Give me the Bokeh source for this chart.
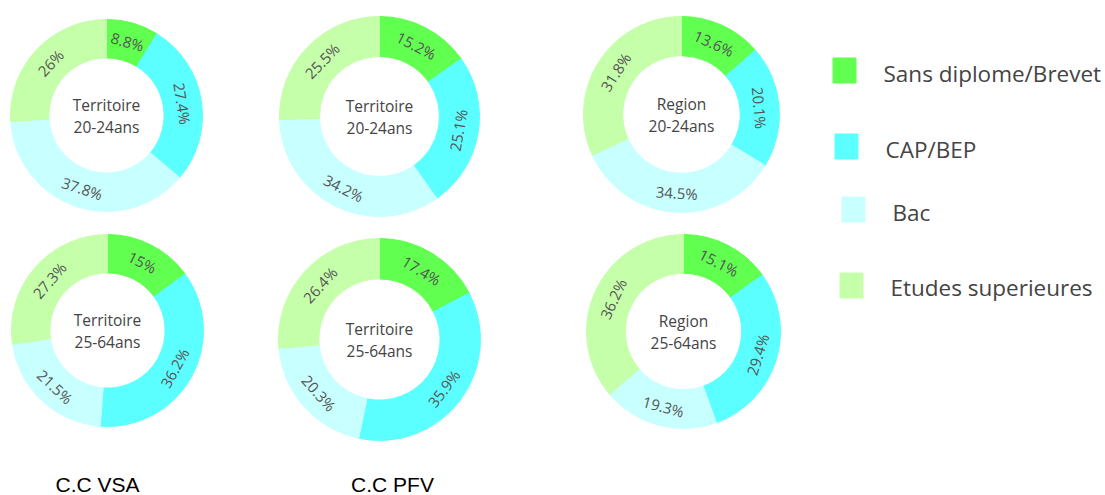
import math
from bokeh.plotting import figure
from bokeh.models import Range1d, ColumnDataSource
from bokeh.core.properties import value
from bokeh.embed import file_html
from bokeh.resources import INLINE

# ---------------- data ----------------
categories = ["Sans diplome/Brevet", "CAP/BEP", "Bac", "Etudes superieures"]
colors = ["#60FF50", "#5CFFFF", "#C8FFFF", "#C5FFAA"]

vsa_20_24 = [8.8, 27.4, 37.8, 26]
pfv_20_24 = [15.2, 25.1, 34.2, 25.5]
region_20_24 = [13.6, 20.1, 34.5, 31.8]
vsa_25_64 = [15, 36.2, 21.5, 27.3]
pfv_25_64 = [17.4, 35.9, 20.3, 26.4]
region_25_64 = [15.1, 29.4, 19.3, 36.2]

chart_titles = ["Territoire", "Territoire", "Region", "Territoire", "Territoire", "Region"]
chart_ages = ["20-24ans", "20-24ans", "20-24ans", "25-64ans", "25-64ans", "25-64ans"]
group_labels = ["C.C VSA", "C.C PFV"]

series = [vsa_20_24, pfv_20_24, region_20_24, vsa_25_64, pfv_25_64, region_25_64]

# ---------------- layout (pixel positions in page coords) ----------------
centers = [(106, 115), (379, 116), (681, 114), (107, 330), (379, 339), (683, 331)]
outer_r = [96, 100, 98, 96, 101, 97]
inner_ratio = 0.6

legend_sq = [(844, 70), (846, 146), (853, 209), (851, 285)]
legend_tx = [(883, 73), (885, 149), (892, 212), (890, 287)]
group_pos = [(97, 484), (392, 484)]

W, H = 1105, 495
p = figure(width=W, height=H, x_range=Range1d(0, W), y_range=Range1d(-H, 0),
           output_backend="svg", toolbar_location=None, min_border=0,
           x_axis_location=None, y_axis_location=None)
p.grid.visible = False
p.outline_line_color = None
p.background_fill_color = "white"
p.border_fill_color = "white"

wx, wy, wri, wro, wsa, wea, wcol = [], [], [], [], [], [], []
lx, ly, ltxt, lang = [], [], [], []
cx_, cy_, ctxt = [], [], []
for vals, (cx, cy), ro, t1, t2 in zip(series, centers, outer_r, chart_titles, chart_ages):
    ri = ro * inner_ratio
    total = sum(vals)
    cum = 0.0
    for v, col in zip(vals, colors):
        th1 = cum / total * 360.0
        cum += v
        th2 = cum / total * 360.0
        wx.append(cx); wy.append(-cy); wri.append(ri); wro.append(ro)
        wsa.append(math.radians(90 - th2)); wea.append(math.radians(90 - th1))
        wcol.append(col)
        mid = (th1 + th2) / 2.0
        rm = (ri + ro) / 2.0
        lx.append(cx + rm * math.sin(math.radians(mid)))
        ly.append(-(cy - rm * math.cos(math.radians(mid))))
        if 90 < mid < 270:
            rot = mid - 180
        elif mid >= 270:
            rot = mid - 360
        else:
            rot = mid
        lang.append(-math.radians(rot))
        ltxt.append(f"{v:g}%")
    cx_ += [cx, cx]
    cy_ += [-(cy - 11), -(cy + 11)]
    ctxt += [t1, t2]

p.annular_wedge(x="x", y="y", inner_radius="ri", outer_radius="ro",
                start_angle="sa", end_angle="ea", color="c",
                source=ColumnDataSource(dict(x=wx, y=wy, ri=wri, ro=wro, sa=wsa, ea=wea, c=wcol)))

p.text(x=lx, y=ly, text=ltxt, angle=lang, text_font=value("Open Sans"), text_font_size="15px",
       text_color="#555555", text_align="center", text_baseline="middle")
p.text(x=cx_, y=cy_, text=ctxt, text_font=value("Open Sans"), text_font_size="15.5px",
       text_color="#444444", text_align="center", text_baseline="middle")

# legend
p.rect(x=[s[0] for s in legend_sq], y=[-s[1] for s in legend_sq], width=23, height=25,
       color=colors)
p.text(x=[t[0] for t in legend_tx], y=[-t[1] for t in legend_tx], text=categories,
       text_font=value("Open Sans"), text_font_size="22.5px", text_color="#444444",
       text_align="left", text_baseline="middle")

# group labels
p.text(x=[g[0] for g in group_pos], y=[-g[1] for g in group_pos], text=group_labels,
       text_font=value("Liberation Sans"), text_font_size="21px", text_color="#000000",
       text_align="center", text_baseline="middle")

open("out.html", "w").write(file_html(p, INLINE))
